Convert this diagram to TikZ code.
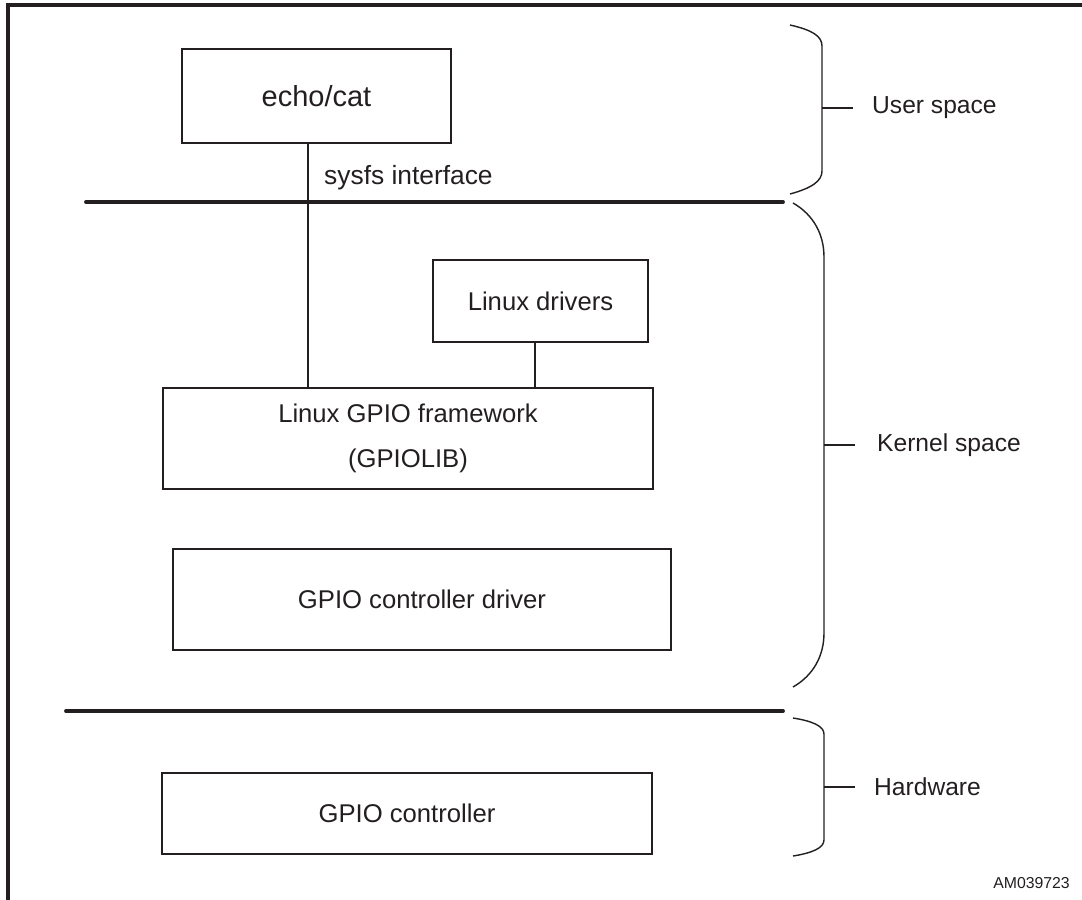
\documentclass[tikz,border=0pt]{standalone}
\usepackage{fontspec}
\setmainfont{Liberation Sans}
\usetikzlibrary{positioning}
\definecolor{inkgray}{RGB}{35,31,32}
\tikzset{
  blk/.style={draw=inkgray, line width=1.1pt, inner sep=0pt, font=\fontsize{14.6}{17}\selectfont, text=inkgray},
  sepline/.style={draw=inkgray, line width=2.2pt, line cap=round},
  wire/.style={draw=inkgray, line width=1.2pt},
  bracket/.style={draw=inkgray, line width=0.8pt},
  side/.style={anchor=west, font=\fontsize{14}{17}\selectfont, text=inkgray}
}
\begin{document}
\begin{tikzpicture}[x=0.2mm, y=-0.2mm]
  \useasboundingbox (0,0) rectangle (1082,900);
  % Frame
  \draw [inkgray, line width=1.8pt] (8,900) -- (8,5) -- (1082,5);
  % Boxes
  \node [blk, minimum width=53.8mm, minimum height=18.8mm, font=\fontsize{16.5}{20}\selectfont] (echo) at (316.5,96) {echo/cat};
  \node [blk, minimum width=43mm, minimum height=16.4mm] (drivers) at (540.5,301) {Linux drivers};
  \node [blk, minimum width=98mm, minimum height=20.2mm, align=center, font=\fontsize{14.6}{26}\selectfont] (gpiolib) at (408,438.5) {Linux GPIO framework\\(GPIOLIB)};
  \node [blk, minimum width=99.6mm, minimum height=20.2mm] (ctrldrv) at (422,599.5) {GPIO controller driver};
  \node [blk, minimum width=98mm, minimum height=16.2mm] (ctrl) at (407,813.5) {GPIO controller};
  % Connectors
  \draw [wire] (echo.south -| 308,0) -- (gpiolib.north -| 308,0);
  \draw [wire] (drivers.south -| 535,0) -- (gpiolib.north -| 535,0);
  \node [anchor=west, font=\fontsize{15}{18}\selectfont, text=inkgray] (sysfs) at (318,178) {sysfs interface};
  % Layer borders
  \draw [sepline] (86,202) -- (783,202);
  \draw [sepline] (66,711) -- (783,711);
  % User space bracket
  \draw [bracket] (790,25) .. controls (812,30) and (822,36) .. (822,46) -- (822,171)
    .. controls (822,181) and (812,188) .. (790,194);
  \draw [bracket] (822,108) -- (853,108);
  \node [side] (user) at (866,108) {User space};
  % Kernel space bracket
  \draw [bracket] (793,203) .. controls (814,215) and (824,235) .. (824,257) -- (824,633)
    .. controls (824,655) and (814,675) .. (793,687);
  \draw [bracket] (824,445) -- (855,445);
  \node [side] (kernel) at (871,445) {Kernel space};
  % Hardware bracket
  \draw [bracket] (793,718) .. controls (812,721) and (824,726) .. (824,734) -- (824,840)
    .. controls (824,848) and (812,853) .. (793,856);
  \draw [bracket] (824,787) -- (855,787);
  \node [side] (hw) at (868,787) {Hardware};
  % Figure code
  \node [anchor=east, font=\fontsize{9}{11}\selectfont, text=inkgray] (code) at (1076,883) {AM039723};
\end{tikzpicture}
\end{document}
